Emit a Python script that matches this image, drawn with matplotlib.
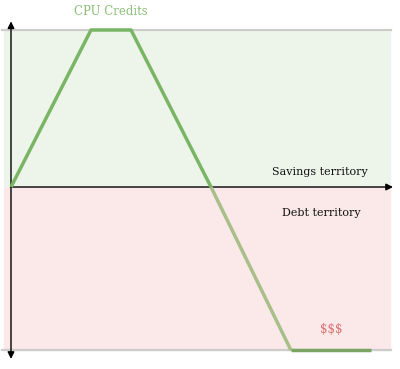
import matplotlib.pyplot as plt

# --- Data ---
time_steps = [0, 2, 3, 5, 7, 9]
credits = [0, 100, 100, 0, -104, -104]
credit_max = 100
credit_min = -104

plt.rcParams['font.family'] = ['DejaVu Serif']

fig = plt.figure(figsize=(4, 3.69), dpi=100)
ax = fig.add_axes([0, 0, 1, 1])
ax.set_xlim(-0.275, 9.725)
ax.set_ylim(-115.9, 119.1)
ax.axis('off')

# territories
ax.axhspan(0, credit_max, xmin=0.009, xmax=0.975, color='#edf5ea', zorder=0)
ax.axhspan(credit_min, 0, xmin=0.009, xmax=0.975, color='#fbe9e9', zorder=0)
ax.plot([-0.225, 9.5], [credit_max, credit_max], color='#cccccc', lw=1.6, zorder=1)
ax.plot([-0.225, 9.5], [credit_min, credit_min], color='#cccccc', lw=1.6, zorder=1)

# axes arrows
arrow = dict(arrowstyle='-|>', color='black', lw=1, mutation_scale=10,
             shrinkA=0, shrinkB=0)
ax.annotate('', xy=(0, 105.5), xytext=(0, 0), arrowprops=arrow)
ax.annotate('', xy=(0, -109.5), xytext=(0, 0), arrowprops=arrow)
ax.annotate('', xy=(9.55, 0), xytext=(0, 0), arrowprops=arrow)

# credit line
ax.plot(time_steps[:4], credits[:4], color='#7ab565', lw=2.5, zorder=3,
        solid_capstyle='butt')
ax.plot(time_steps[3:5], credits[3:5], color='#a9bf8a', lw=2.5, zorder=3,
        solid_capstyle='butt')
ax.plot(time_steps[4:], credits[4:], color='#7aa563', lw=2.5, zorder=3,
        solid_capstyle='butt')

ax.text(2.5, 112, 'CPU Credits', color='#8dc07a', fontsize=8.5, ha='center', va='center')
ax.text(7.73, 9.5, 'Savings territory', color='#111111', fontsize=8, ha='center', va='center')
ax.text(7.75, -16.5, 'Debt territory', color='#111111', fontsize=8, ha='center', va='center')
ax.text(8.0, -91, '$$$', color='#d9706f', fontsize=8.5, ha='center', va='center')

fig.savefig('out.png', dpi=100)
